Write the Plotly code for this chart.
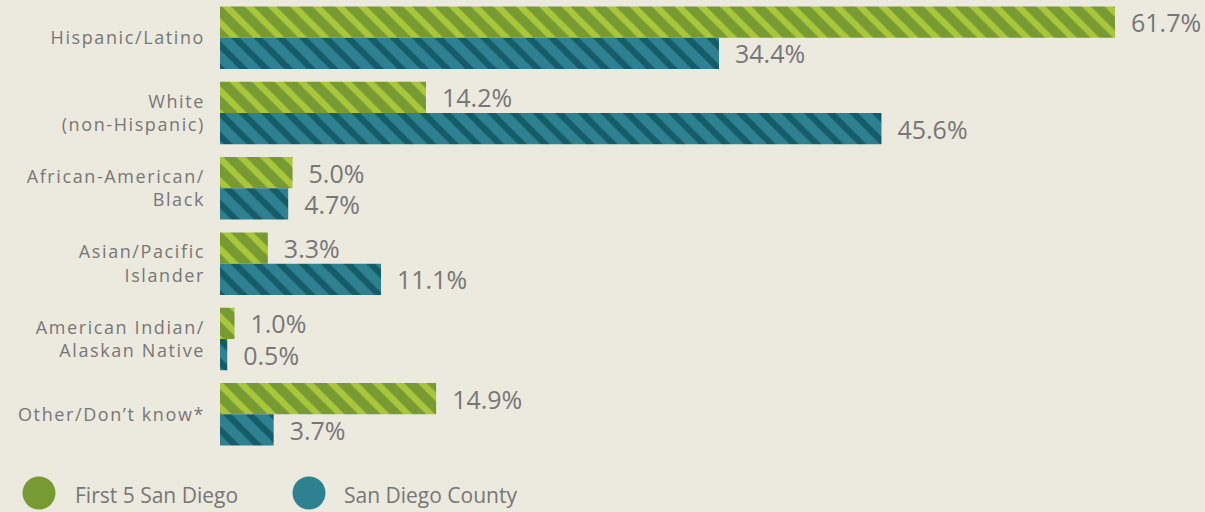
import plotly.graph_objects as go

# ---------------------------------------------------------------------------
# Data
# ---------------------------------------------------------------------------

CATEGORIES = [
    "Hispanic/Latino",
    "White<br>(non-Hispanic)",
    "African-American/<br>Black",
    "Asian/Pacific<br>Islander",
    "American Indian/<br>Alaskan Native",
    "Other/Don’t know*",
]
FIRST5 = [61.7, 14.2, 5.0, 3.3, 1.0, 14.9]
COUNTY = [34.4, 45.6, 4.7, 11.1, 0.5, 3.7]
SERIES_NAMES = ["First 5 San Diego", "San Diego County"]

# ---------------------------------------------------------------------------
# Style
# ---------------------------------------------------------------------------

BG = "#ECE9DF"
TEXT = "#777777"
GREEN = "#789A32"
GREEN_STRIPE = "#A9C73B"
TEAL = "#2D8190"
TEAL_STRIPE = "#155C68"
FONT = "'Open Sans', 'Noto Sans', sans-serif"

# plot area in pixels: left 220, right 1115, top 0, bottom 452
L, R, T, B = 220, 90, 0, 60
W, H = 1205, 512
PW, PH = W - L - R, H - T - B


def px_x(x):
    return (x - L) / PW


def px_y(y):
    return (PH + T - y) / PH


fig = go.Figure()

for name, vals, base, stripe in [
    (SERIES_NAMES[0], FIRST5, GREEN, GREEN_STRIPE),
    (SERIES_NAMES[1], COUNTY, TEAL, TEAL_STRIPE),
]:
    fig.add_trace(go.Bar(
        y=CATEGORIES,
        x=vals,
        name=name,
        orientation="h",
        marker=dict(
            color=base,
            line=dict(width=0),
            pattern=dict(shape="\\", fgcolor=stripe, fgopacity=1,
                         size=16, solidity=0.4, fillmode="overlay"),
        ),
        text=[f"\u00a0\u00a0{v:.1f}%" for v in vals],
        textposition="outside",
        textfont=dict(size=25, color=TEXT, family=FONT),
        cliponaxis=False,
        constraintext="none",
        showlegend=False,
    ))

# legend drawn by hand: large circles + labels
shapes = []
annotations = []
for cx, tx, color, label in [
    (39, 73, GREEN, SERIES_NAMES[0]),
    (309, 342, TEAL, SERIES_NAMES[1]),
]:
    shapes.append(dict(
        type="circle", xref="paper", yref="paper",
        x0=px_x(cx - 16.5), x1=px_x(cx + 16.5),
        y0=px_y(509.5), y1=px_y(476.5),
        fillcolor=color, line=dict(width=0),
    ))
    annotations.append(dict(
        xref="paper", yref="paper", x=px_x(tx), y=px_y(495),
        xanchor="left", yanchor="middle", text=label, showarrow=False,
        font=dict(size=21, color=TEXT, family=FONT),
    ))

fig.update_layout(
    width=W, height=H,
    margin=dict(l=L, r=R, t=T, b=B),
    paper_bgcolor=BG,
    plot_bgcolor=BG,
    font=dict(family=FONT, color=TEXT),
    barmode="group",
    bargap=0.17,
    bargroupgap=0,
    xaxis=dict(range=[0, 61.7], visible=False, fixedrange=True),
    yaxis=dict(
        autorange="reversed",
        showgrid=False, zeroline=False, showline=False,
        ticks="", ticklabelstandoff=14,
        tickfont=dict(size=18, color=TEXT, family=FONT),
    ),
    shapes=shapes,
    annotations=annotations,
)

# the source typeface is widely tracked; mimic it on the category labels
css = (
    "document.body.style.margin='0';"
    "var s=document.createElement('style');"
    "s.textContent='.ytick text{letter-spacing:1.6px}';"
    "document.head.appendChild(s);"
)
fig.write_html("out.html", config={"displayModeBar": False}, post_script=css)
